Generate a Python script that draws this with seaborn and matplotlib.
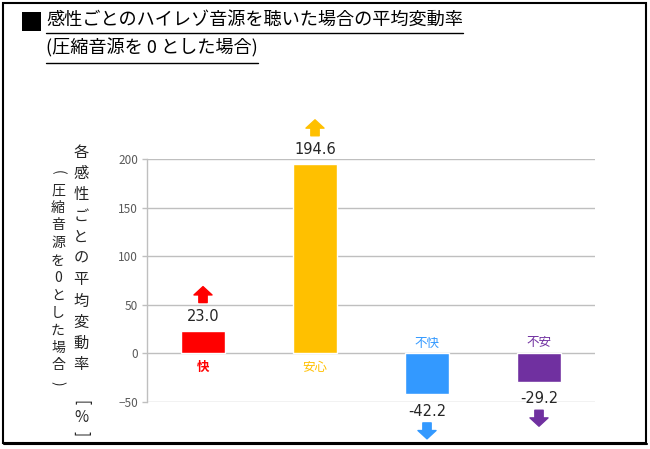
import matplotlib
matplotlib.use("Agg")
import matplotlib.pyplot as plt
import matplotlib.transforms as mtrans
from matplotlib.patches import Rectangle
from matplotlib.lines import Line2D
from matplotlib.textpath import TextPath
from matplotlib.font_manager import FontProperties
import numpy as np
import pandas as pd
import seaborn as sns

# ---- data ----
categories = ["快", "安心", "不快", "不安"]
values = [23.0, 194.6, -42.2, -29.2]
colors = ["#FF0000", "#FFC000", "#3399FF", "#7030A0"]
yticks = [-50, 0, 50, 100, 150, 200]
title_line1 = "感性ごとのハイレゾ音源を聴いた場合の平均変動率"
title_line2 = "(圧縮音源を 0 とした場合)"
ylabel_main = "各感性ごとの平均変動率"
ylabel_unit = ["[", "%", "]"]
ylabel_sub = "(圧縮音源を0とした場合)"

sns.set_theme(style="white")
FAM = ["Noto Sans CJK JP", "DejaVu Sans"]
plt.rcParams["font.family"] = FAM

W, H, DPI = 650, 449, 100
fig = plt.figure(figsize=(W / DPI, H / DPI), dpi=DPI)
fig.patch.set_facecolor("white")

def fx(px):
    return px / W

def fy(py):
    return 1 - py / H

ax = fig.add_axes([fx(147), fy(402), fx(595) - fx(147), fy(159) - fy(402)])

df = pd.DataFrame({"cat": categories, "val": values})
sns.barplot(data=df, x="cat", y="val", hue="cat", palette=colors, order=categories,
            hue_order=categories, width=0.4, legend=False, ax=ax, saturation=1,
            zorder=3)

ax.set_xlim(-0.5, len(categories) - 0.5)
ax.set_ylim(-50, 200)
ax.set_yticks(yticks)
ax.set_xticks([])
ax.set_xlabel("")
ax.set_ylabel("")
ax.yaxis.grid(True, color="#BFBFBF", linewidth=1.0, zorder=0)
ax.set_axisbelow(True)
for s in ["top", "right", "bottom"]:
    ax.spines[s].set_visible(False)
ax.spines["left"].set_color("#BFBFBF")
ax.spines["left"].set_linewidth(1.0)
ax.tick_params(axis="y", length=3.5, width=1.0, color="#BFBFBF", pad=3,
               labelsize=8.5, labelcolor="#595959", left=True, direction="out")

def off(pts):
    return mtrans.offset_copy(ax.transData, fig=fig, x=0, y=pts, units="points")

for i, (cat, v, c) in enumerate(zip(categories, values, colors)):
    sgn = 1 if v >= 0 else -1
    # value label
    ax.annotate(f"{v:.1f}", xy=(i, v), xycoords="data",
                xytext=(0, sgn * (10.5 if sgn > 0 else 12)), textcoords="offset points",
                ha="center", va="center", fontsize=10.5, color="#262626",
                fontfamily=["DejaVu Sans"], annotation_clip=False)
    # arrow
    ax.annotate("", xy=(i, v), xycoords=off(sgn * 32),
                xytext=(i, v), textcoords=off(sgn * 20.5),
                arrowprops=dict(arrowstyle="simple,head_length=0.6,head_width=1.3,tail_width=0.6",
                                color=c, shrinkA=0, shrinkB=0, mutation_scale=10),
                annotation_clip=False)
    # category label on the opposite side of zero
    ax.annotate(cat, xy=(i, 0), xycoords="data",
                xytext=(0, -10 if sgn > 0 else 7.5), textcoords="offset points",
                ha="center", va="center", fontsize=9, color=c,
                fontweight="bold" if cat == "快" else "normal",
                annotation_clip=False)

# vertical y-axis label (two columns); brackets turned for vertical writing,
# positioned so that the glyph ink is centred on the column
BRACKETS = "()[]"
PT = DPI / 72.0

def vchar(xpx, ypx, ch, size):
    if ch in BRACKETS:
        tp = TextPath((0, 0), ch, size=size, prop=FontProperties(family=FAM[0]))
        e = tp.get_extents()
        cx, cy = (e.x0 + e.x1) / 2, (e.y0 + e.y1) / 2
        fig.text(fx(xpx - cy * PT), fy(ypx - cx * PT), ch, rotation=-90,
                 rotation_mode="anchor", ha="left", va="baseline",
                 fontsize=size, color="#262626")
    else:
        fig.text(fx(xpx), fy(ypx), ch, ha="center", va="center",
                 fontsize=size, color="#262626")

for k, ch in enumerate(ylabel_main):
    vchar(81, 152 + k * 21.3, ch, 11)
for k, ch in enumerate(ylabel_unit):
    vchar(81, 403 + k * 15, ch, 11)
for k, ch in enumerate(ylabel_sub):
    vchar(58, 173 + k * 17.5, ch, 10)

# title block
fig.patches.append(Rectangle((fx(22), fy(31)), fx(19), fy(12) - fy(31),
                             transform=fig.transFigure, facecolor="black",
                             edgecolor="none"))
t1 = fig.text(fx(46), fy(20), title_line1, ha="left", va="center",
              fontsize=13.1, color="black")
t2 = fig.text(fx(46), fy(48), title_line2, ha="left", va="center",
              fontsize=13.1, color="black")

fig.canvas.draw()
r = fig.canvas.get_renderer()
for t, uy in [(t1, 33), (t2, 63)]:
    bb = t.get_window_extent(renderer=r)
    fig.lines.append(Line2D([bb.x0 / W, bb.x1 / W], [fy(uy), fy(uy)],
                            transform=fig.transFigure, color="black", lw=1.0))

# outer frame
fig.patches.append(Rectangle((fx(3), fy(443)), fx(646) - fx(3), fy(3) - fy(443),
                             transform=fig.transFigure, facecolor="none",
                             edgecolor="black", lw=1.5))
fig.lines.append(Line2D([fx(4), fx(647)], [fy(444), fy(444)],
                        transform=fig.transFigure, color="black", lw=1.5))

fig.savefig("out.png", dpi=DPI)
